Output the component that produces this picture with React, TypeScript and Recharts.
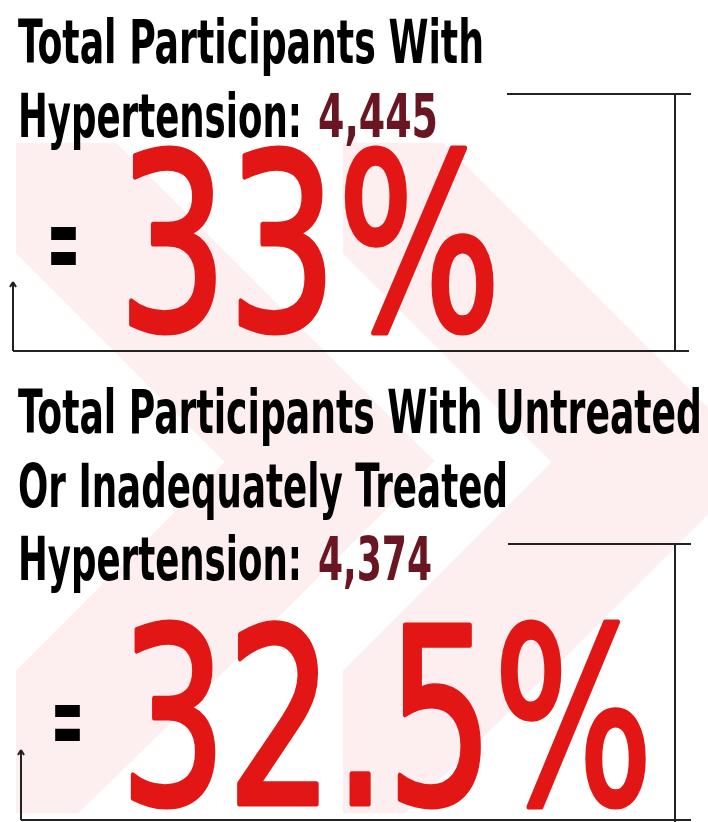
import React from 'react';
import { ComposedChart, Area, XAxis, YAxis, ReferenceLine, Customized } from 'recharts';

const W = 708;
const H = 822;

// headline text for the two stat blocks
const headlineTop = ['Total Participants With', 'Hypertension:'];
const headlineBottom = ['Total Participants With Untreated', 'Or Inadequately Treated', 'Hypertension:'];
const counts = ['4,445', '4,374'];
const shares = ['33%', '32.5%'];

// pink chevron backdrop: each arm is a range band [top, bottom] at a few x stops
const chevronLeftUpper = [
  { x: 16, band: [143, 253] },
  { x: 116, band: [143, 353] },
  { x: 225, band: [252, 462] },
  { x: 434, band: [461, 461] },
];
const chevronLeftLower = [
  { x: 16, band: [671, 813] },
  { x: 78, band: [609, 813] },
  { x: 225, band: [462, 670] },
  { x: 434, band: [461, 461] },
];
const chevronRightUpper = [
  { x: 343, band: [143, 253] },
  { x: 443, band: [143, 353] },
  { x: 552, band: [252, 462] },
  { x: 761, band: [461, 461] },
];
const chevronRightLower = [
  { x: 343, band: [671, 813] },
  { x: 405, band: [609, 813] },
  { x: 552, band: [462, 670] },
  { x: 761, band: [461, 461] },
];

const PINK = '#fdeeef';
const RED = '#e31616';
const MAROON = '#6a1522';
const INK = '#222';
const FONT = "'DejaVu Sans Condensed', 'DejaVu Sans', sans-serif";

function Squeezed({ x, y, w, size, color, weight = 'bold', outline = 0, children }: any) {
  return (
    <text
      x={x}
      y={y}
      fontFamily={FONT}
      fontWeight={weight}
      fontSize={size}
      fill={color}
      stroke={outline ? color : 'none'}
      strokeWidth={outline}
      strokeLinejoin="round"
      textLength={w}
      lengthAdjust="spacingAndGlyphs"
    >
      {children}
    </text>
  );
}

function Texts() {
  return (
    <g>
      <Squeezed x={18} y={63} w={466} size={60} color="#000">{headlineTop[0]}</Squeezed>
      <Squeezed x={18} y={137} w={284} size={60} color="#000">{headlineTop[1]}</Squeezed>
      <Squeezed x={318} y={137} w={120} size={60} color={MAROON}>{counts[0]}</Squeezed>
      <Squeezed x={47} y={281} w={33} size={112} color="#000">=</Squeezed>
      <Squeezed x={118} y={330} w={383} size={244} color={RED} weight="normal" outline={5}>{shares[0]}</Squeezed>

      <Squeezed x={18} y={433} w={684} size={60} color="#000">{headlineBottom[0]}</Squeezed>
      <Squeezed x={18} y={507} w={490} size={60} color="#000">{headlineBottom[1]}</Squeezed>
      <Squeezed x={18} y={580} w={284} size={60} color="#000">{headlineBottom[2]}</Squeezed>
      <Squeezed x={318} y={580} w={114} size={60} color={MAROON}>{counts[1]}</Squeezed>
      <Squeezed x={51} y={756} w={33} size={105} color="#000">=</Squeezed>
      <Squeezed x={120} y={804} w={533} size={244} color={RED} weight="normal" outline={5}>{shares[1]}</Squeezed>
    </g>
  );
}

const seg = (x1: number, y1: number, x2: number, y2: number) => [
  { x: x1, y: y1 },
  { x: x2, y: y2 },
];

const layer: React.CSSProperties = { position: 'absolute', left: 0, top: 0 };
const noMargin = { top: 0, right: 0, bottom: 0, left: 0 };

export default function App() {
  const lineProps = { stroke: INK, strokeWidth: 2, ifOverflow: 'visible' as const };
  return (
    <div style={{ position: 'fixed', left: 0, top: 0, width: W, height: H, background: '#fff' }}>
      {/* backdrop chevrons */}
      <div style={layer}>
        <ComposedChart width={W} height={H} margin={noMargin}>
          <XAxis type="number" dataKey="x" domain={[0, W]} allowDataOverflow hide />
          <YAxis type="number" domain={[0, H]} reversed allowDataOverflow hide />
          {[chevronLeftUpper, chevronLeftLower, chevronRightUpper, chevronRightLower].map((d, i) => (
            <Area
              key={i}
              data={d}
              dataKey="band"
              type="linear"
              stroke={PINK}
              strokeWidth={0.5}
              fill={PINK}
              fillOpacity={1}
              dot={false}
              activeDot={false}
              isAnimationActive={false}
            />
          ))}
        </ComposedChart>
      </div>

      {/* brackets and figures */}
      <div style={layer}>
        <ComposedChart width={W} height={H} margin={noMargin}>
          <XAxis type="number" dataKey="x" domain={[0, W]} allowDataOverflow hide />
          <YAxis type="number" domain={[0, H]} reversed allowDataOverflow hide />

          <ReferenceLine segment={seg(507, 94, 691, 94)} {...lineProps} />
          <ReferenceLine segment={seg(675, 94, 675, 352)} {...lineProps} />
          <ReferenceLine segment={seg(13, 351, 689, 351)} {...lineProps} />
          <ReferenceLine segment={seg(13, 351, 13, 282)} {...lineProps} />
          <ReferenceLine segment={seg(13, 282, 10, 287)} {...lineProps} />
          <ReferenceLine segment={seg(13, 282, 16, 287)} {...lineProps} />

          <ReferenceLine segment={seg(508, 544, 691, 544)} {...lineProps} />
          <ReferenceLine segment={seg(675, 544, 675, 822)} {...lineProps} />
          <ReferenceLine segment={seg(21, 820, 691, 820)} {...lineProps} />
          <ReferenceLine segment={seg(21, 820, 21, 750)} {...lineProps} />
          <ReferenceLine segment={seg(21, 750, 18, 755)} {...lineProps} />
          <ReferenceLine segment={seg(21, 750, 24, 755)} {...lineProps} />

          <Customized component={Texts} />
        </ComposedChart>
      </div>
    </div>
  );
}
